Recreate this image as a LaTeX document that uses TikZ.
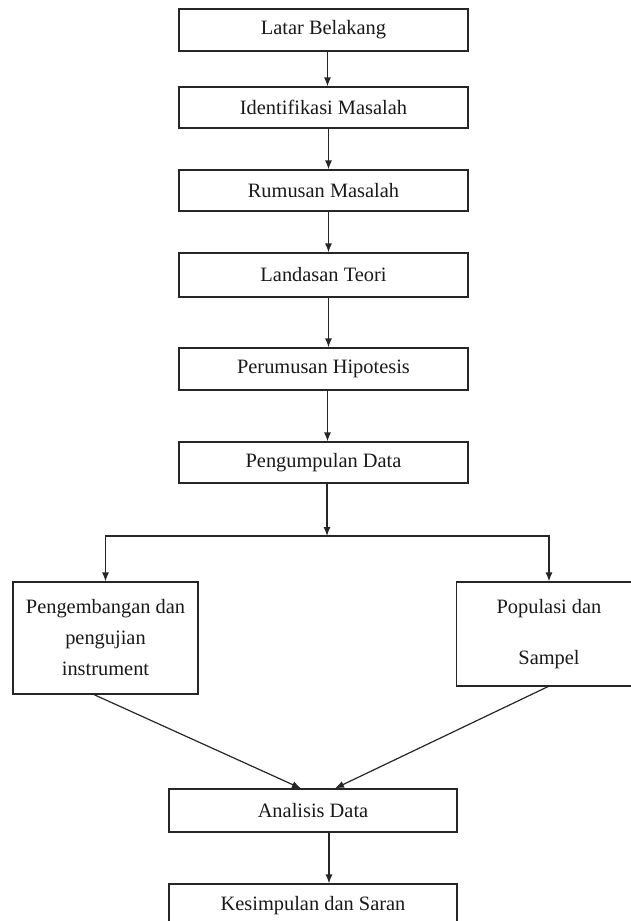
\documentclass[tikz,border=0pt]{standalone}
\usepackage{fontspec}
\setmainfont{Liberation Serif}
\usetikzlibrary{arrows.meta}
\begin{document}
\begin{tikzpicture}[x=1pt,y=-1pt,
  box/.style={draw=black!85,line width=1.2pt,rectangle,inner sep=0pt,align=center,
    font=\fontsize{20.4}{31}\selectfont,text=black!90},
  wide/.style={box,minimum width=289pt},
  side/.style={box,minimum width=185pt},
  arr/.style={draw=black!85,line width=1.2pt,-{Latex[length=9pt,width=7pt]}},
  ln/.style={draw=black!85,line width=1.2pt}]
\useasboundingbox (0,0) rectangle (631,921);
\clip (0,0) rectangle (631,921);
\node[wide,minimum height=42pt] (b1) at (323.5,30) {Latar Belakang};
\node[wide,minimum height=41pt] (b2) at (323.5,107.5) {Identifikasi Masalah};
\node[wide,minimum height=41pt] (b3) at (323.5,190.5) {Rumusan Masalah};
\node[wide,minimum height=44pt] (b4) at (323.5,275) {Landasan Teori};
\node[wide,minimum height=42pt] (b5) at (323.5,369) {Perumusan Hipotesis};
\node[wide,minimum height=41pt] (b6) at (323.5,462.5) {Pengumpulan Data};
\node[side,minimum height=112pt] (l) at (105.5,638) {Pengembangan dan\\pengujian\\instrument};
\node[side,minimum height=104pt,font=\fontsize{20.4}{51}\selectfont] (r) at (549,634) {Populasi dan\\Sampel};
\node[box,minimum width=288pt,minimum height=43pt] (a) at (313,810.5) {Analisis Data};
\node[box,minimum width=288pt,minimum height=43pt] (k) at (313,905.5) {Kesimpulan dan Saran};
\coordinate (hub) at (327,536);
\draw[arr] ([xshift=4]b1.south) -- ([xshift=4]b2.north);
\draw[arr] ([xshift=5]b2.south) -- ([xshift=5]b3.north);
\draw[arr] ([xshift=5]b3.south) -- ([xshift=5]b4.north);
\draw[arr] ([xshift=5]b4.south) -- ([xshift=5]b5.north);
\draw[arr] ([xshift=4]b5.south) -- ([xshift=4]b6.north);
\draw[arr] ([xshift=3.5]b6.south) -- (hub);
\draw[arr] (hub) -| (l.north);
\draw[arr] (hub) -| (r.north);
\draw[arr] ([xshift=-11.5]l.south) -- ([xshift=-12]a.north);
\draw[arr] ([xshift=-1]r.south) -- ([xshift=22]a.north);
\draw[arr] ([xshift=16]a.south) -- ([xshift=16]k.north);
\end{tikzpicture}
\end{document}
